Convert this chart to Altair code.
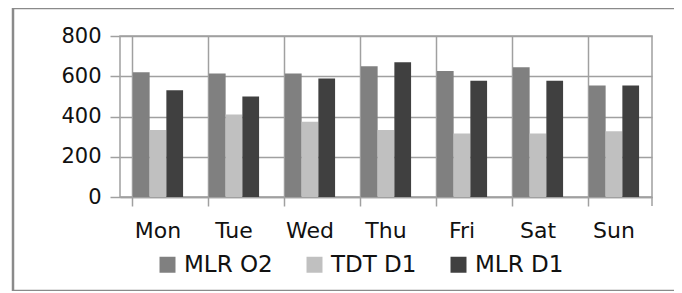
import altair as alt
import pandas as pd

days = ["Mon", "Tue", "Wed", "Thu", "Fri", "Sat", "Sun"]
series = ["MLR O2", "TDT D1", "MLR D1"]
mlr_o2 = [620, 614, 614, 650, 626, 645, 554]
tdt_d1 = [333, 410, 374, 333, 316, 316, 327]
mlr_d1 = [530, 500, 589, 669, 578, 578, 554]
colors = ["#808080", "#c0c0c0", "#404040"]

rows = []
for i, d in enumerate(days):
    for s, vals in zip(series, [mlr_o2, tdt_d1, mlr_d1]):
        rows.append({"day": d, "series": s, "value": vals[i]})
df = pd.DataFrame(rows)

W, H = 532, 161
FONT = "DejaVu Sans"

bars = alt.Chart(df).mark_bar(clip=False).encode(
    x=alt.X("day:N", sort=days, title=None,
            scale=alt.Scale(paddingInner=0.34, paddingOuter=0.17),
            axis=alt.Axis(labelAngle=0, labelFont=FONT, labelFontSize=22,
                          labelColor="#111111", tickSize=9, tickColor="#a0a0a0",
                          tickWidth=1.5, bandPosition=0, grid=True,
                          gridColor="#a0a0a0", gridWidth=1.5,
                          domainColor="#a0a0a0", domainWidth=1.5,
                          labelPadding=14)),
    xOffset=alt.XOffset("series:N", sort=series, scale=alt.Scale(paddingInner=0, paddingOuter=0)),
    y=alt.Y("value:Q", title=None,
            scale=alt.Scale(domain=[0, 800]),
            axis=alt.Axis(values=[0, 200, 400, 600, 800], labelFont=FONT,
                          labelFontSize=21, labelColor="#111111",
                          tickSize=10, tickColor="#a0a0a0", tickWidth=1.5,
                          gridColor="#a0a0a0", gridWidth=1.5, domain=False,
                          labelPadding=9)),
    color=alt.Color("series:N", sort=series,
                    scale=alt.Scale(domain=series, range=colors),
                    legend=alt.Legend(title=None, orient="none", direction="horizontal",
                                      legendX=36, legendY=217, symbolType="square",
                                      symbolSize=256, symbolStrokeWidth=0,
                                      labelFont=FONT, labelFontSize=23,
                                      labelColor="#111111", labelOffset=5,
                                      columnPadding=30)),
)

end_tick = alt.Chart(pd.DataFrame({"a": [0]})).mark_rule(
    color="#a0a0a0", strokeWidth=1.5, clip=False
).encode(
    x=alt.value(W), y=alt.value(H), y2=alt.value(H + 9),
)

frame = alt.Chart(pd.DataFrame({"a": [0]})).mark_rect(
    filled=False, stroke="#8a8a8a", strokeWidth=2.5, clip=False
).encode(
    x=alt.value(-107), x2=alt.value(561),
    y=alt.value(-28), y2=alt.value(255),
)

chart = alt.layer(bars, end_tick, frame).properties(
    width=W, height=H,
    autosize=alt.AutoSizeParams(type="none"),
    padding={"left": 112, "top": 28, "right": 22, "bottom": 94},
).configure_view(stroke="#a0a0a0", strokeWidth=1.5)

chart.save("out.html", embed_options={"renderer": "svg", "actions": False})
